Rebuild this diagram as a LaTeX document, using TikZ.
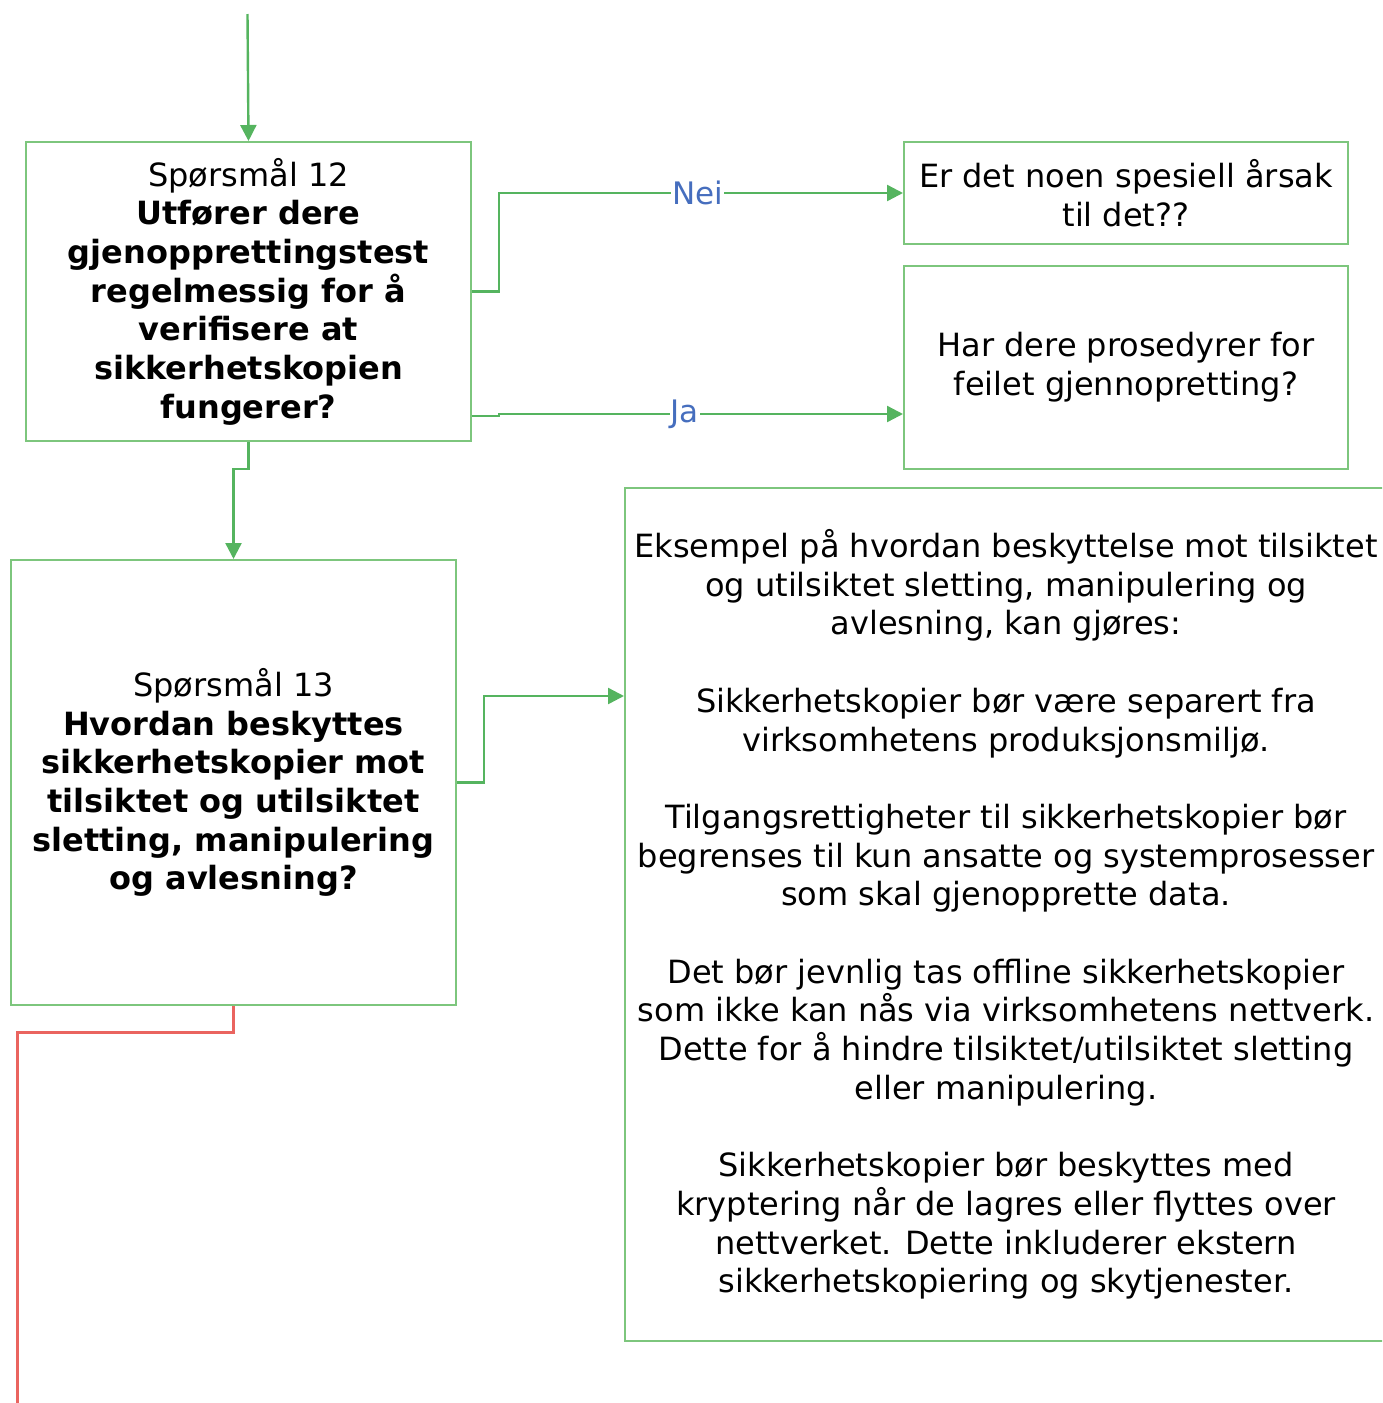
\documentclass[tikz,border=0pt]{standalone}
\usepackage{fontspec}
\setmainfont{DejaVu Sans}
\usetikzlibrary{arrows.meta}
\definecolor{boxgreen}{RGB}{125,198,125}
\definecolor{linegreen}{RGB}{85,180,95}
\definecolor{linered}{RGB}{234,100,95}
\definecolor{labelblue}{RGB}{70,110,190}
\tikzset{
  box/.style={draw=boxgreen, line width=2pt, rectangle, anchor=north west, inner sep=0pt,
    align=center, font=\fontsize{32}{38.7}\selectfont, text=black},
  conn/.style={draw=linegreen, line width=2.4pt, -{Triangle[length=16pt,width=16pt]}},
  redconn/.style={draw=linered, line width=3pt},
  lbl/.style={fill=white, inner sep=1pt, text=labelblue, font=\fontsize{31}{36}\selectfont}
}
\begin{document}
\begin{tikzpicture}[x=1pt,y=-1pt]
\useasboundingbox (0,0) rectangle (1382,1403);
\clip (0,0) rectangle (1382,1403);

\node[box, minimum width=445pt, minimum height=299pt] (q12) at (25,141)
  {Spørsmål 12\\\textbf{Utfører dere}\\\textbf{gjenopprettingstest}\\\textbf{regelmessig for å}\\\textbf{verifisere at}\\\textbf{sikkerhetskopien}\\\textbf{fungerer?}};

\node[box, minimum width=444pt, minimum height=102pt] (nei) at (903,141)
  {Er det noen spesiell årsak\\til det??};

\node[box, minimum width=444pt, minimum height=203pt] (ja) at (903,265)
  {Har dere prosedyrer for\\feilet gjennopretting?};

\node[box, minimum width=445pt, minimum height=445pt] (q13) at (10,559)
  {Spørsmål 13\\\textbf{Hvordan beskyttes}\\\textbf{sikkerhetskopier mot}\\\textbf{tilsiktet og utilsiktet}\\\textbf{sletting, manipulering}\\\textbf{og avlesning?}};

\node[box, minimum width=762pt, minimum height=853pt] (info) at (624,487)
  {Eksempel på hvordan beskyttelse mot tilsiktet\\og utilsiktet sletting, manipulering og\\avlesning, kan gjøres:\\[38.7pt]
   Sikkerhetskopier bør være separert fra\\virksomhetens produksjonsmiljø.\\[38.7pt]
   Tilgangsrettigheter til sikkerhetskopier bør\\begrenses til kun ansatte og systemprosesser\\som skal gjenopprette data.\\[38.7pt]
   Det bør jevnlig tas offline sikkerhetskopier\\som ikke kan nås via virksomhetens nettverk.\\Dette for å hindre tilsiktet/utilsiktet sletting\\eller manipulering.\\[38.7pt]
   Sikkerhetskopier bør beskyttes med\\kryptering når de lagres eller flyttes over\\nettverket. Dette inkluderer ekstern\\sikkerhetskopiering og skytjenester.};

\coordinate (topstart) at (247.5,14);
\coordinate (redend) at (17,1410);

\draw[conn] (topstart) -- (q12.north);

\draw[conn] (q12.east) -- ++(27,0) |- (nei.west)
  node[lbl, pos=0.746] {Nei};

\draw[conn] ([yshift=26pt]q12.south east) -- ++(27,0) -- ++(0,-2) -- ([yshift=56pt]ja.south west)
  node[lbl, pos=0.46] {Ja};

\draw[conn] (q12.south) -- ++(0,27) -| (q13.north);

\draw[conn] (q13.east) -- ++(27,0) |- ([yshift=-209pt]info.north west);

\draw[redconn] (q13.south) -- ++(0,26) -| (redend);
\end{tikzpicture}
\end{document}
